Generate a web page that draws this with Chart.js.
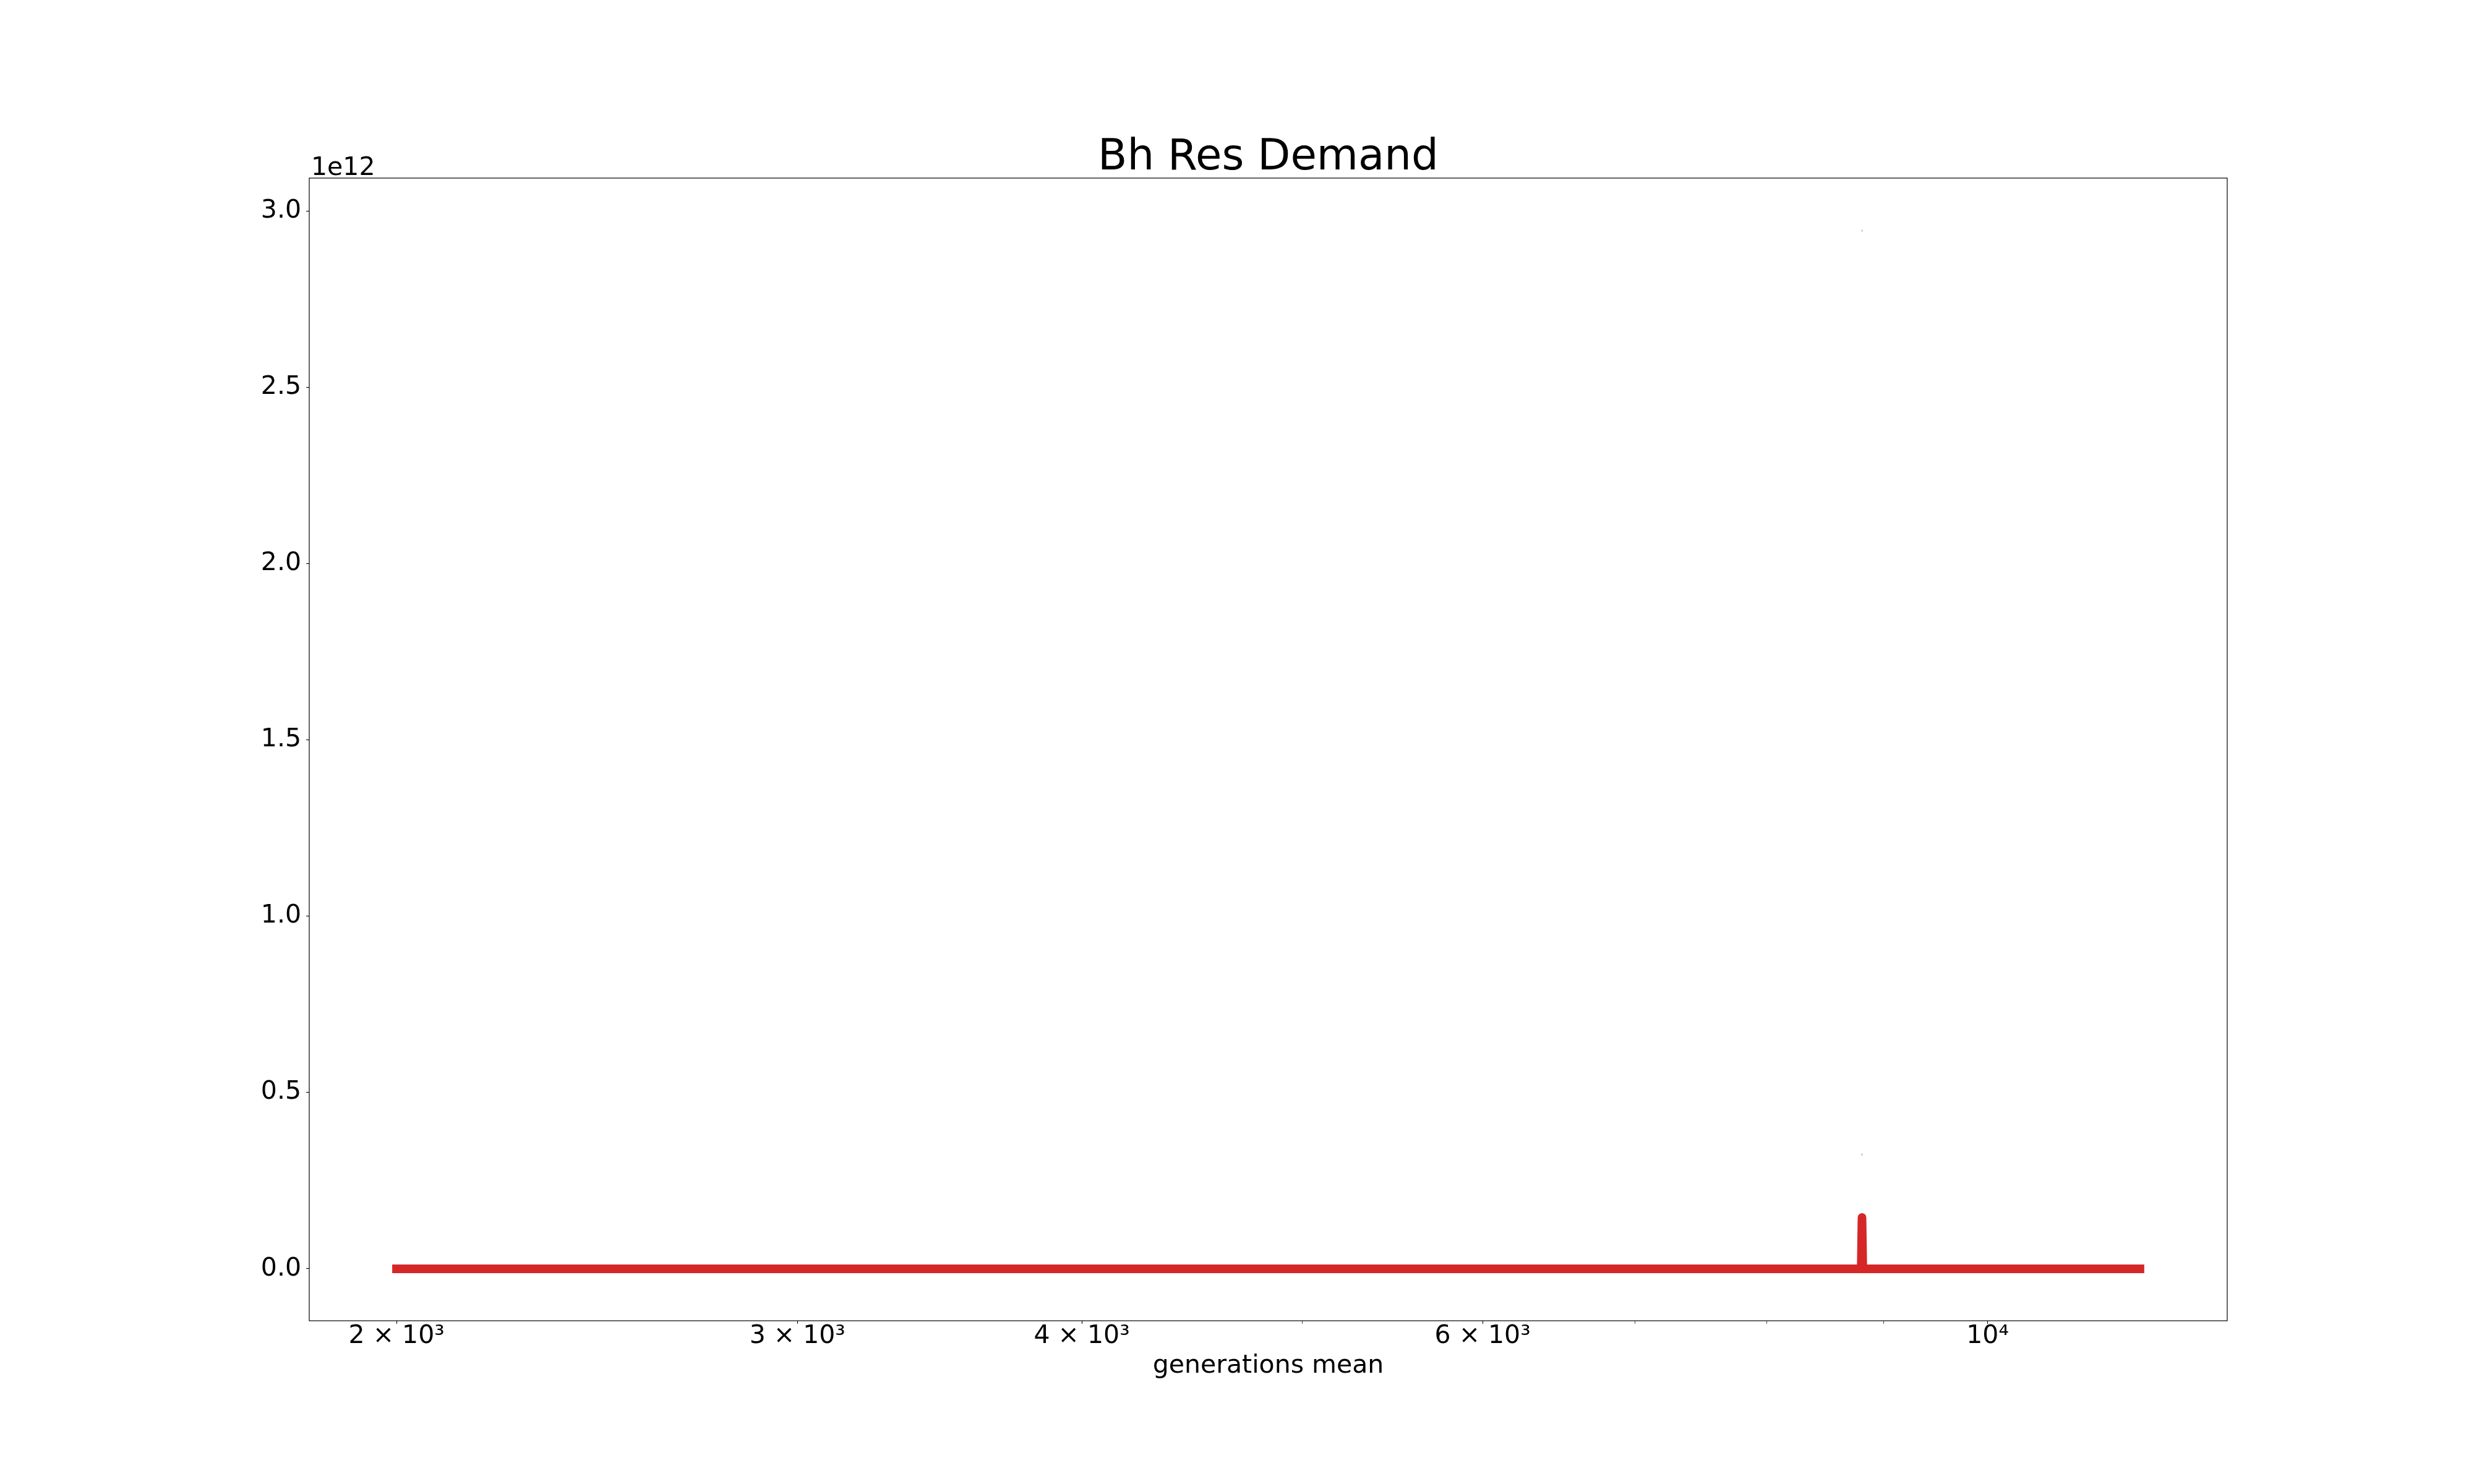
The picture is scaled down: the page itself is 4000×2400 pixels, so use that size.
<!DOCTYPE html>
<html>
<head>
<meta charset="utf-8">
<script src="https://cdn.jsdelivr.net/npm/chart.js@4/dist/chart.umd.min.js"></script>
<style>
  body { margin: 0; background: #ffffff; }
  #wrap { width: 4000px; height: 2400px; position: relative; }
</style>
</head>
<body>
<div id="wrap"><canvas id="demandChart"></canvas></div>
<script>
// generations mean (x) and the mean demand (y)
const generations = [2000, 2500, 3000, 3500, 4000, 5000, 6000, 7000, 8000, 8800, 8807, 8814, 9500, 10500, 11666];
const demand = [0, 0, 0, 0, 0, 0, 0, 0, 0, 0, 0.1454e12, 0, 0, 0, 0];

// faint spread points around the spike
const spreadX = [8807, 8807];
const spreadY = [2.944e12, 0.324e12];

// axis ticks
const xTickValues = [2000, 3000, 4000, 5000, 6000, 7000, 8000, 9000, 10000];
const xTickLabels = ["2 × 10³", "3 × 10³", "4 × 10³", "", "6 × 10³", "", "", "", "10⁴"];
const yTickValues = [0, 0.5e12, 1.0e12, 1.5e12, 2.0e12, 2.5e12, 3.0e12];

const FONT = "'DejaVu Sans', sans-serif";

// matplotlib style frame plus the offset text of the y axis
const framePlugin = {
  id: "frame",
  afterDraw(chart) {
    const { ctx, chartArea } = chart;
    ctx.save();
    ctx.strokeStyle = "#000000";
    ctx.lineWidth = 1.2;
    ctx.strokeRect(chartArea.left, chartArea.top, chartArea.right - chartArea.left, chartArea.bottom - chartArea.top);
    ctx.fillStyle = "#000000";
    ctx.font = "41px " + FONT;
    ctx.textAlign = "left";
    ctx.textBaseline = "alphabetic";
    ctx.fillText("1e12", chartArea.left + 3, chartArea.top - 5);
    ctx.restore();
  },
};

const ctx = document.getElementById("demandChart").getContext("2d");
const demandChart = new Chart(ctx, {
  type: "line",
  data: {
    datasets: [
      {
        label: "spread",
        data: spreadX.map((x, i) => ({ x: x, y: spreadY[i] })),
        showLine: false,
        pointRadius: 1.6,
        pointBorderWidth: 0,
        pointBackgroundColor: "rgba(31, 119, 180, 0.35)",
        order: 2,
      },
      {
        label: "Bh Res Demand",
        data: generations.map((x, i) => ({ x: x, y: demand[i] })),
        borderColor: "#d62728",
        borderWidth: 14,
        borderCapStyle: "square",
        borderJoinStyle: "round",
        pointRadius: 0,
        tension: 0,
        fill: false,
        order: 1,
      },
    ],
  },
  options: {
    responsive: true,
    maintainAspectRatio: false,
    devicePixelRatio: 1,
    animation: false,
    layout: { padding: { left: 0, right: 399, top: 0, bottom: 0 } },
    plugins: {
      legend: { display: false },
      tooltip: { enabled: false },
      title: {
        display: true,
        fullSize: false,
        text: "Bh Res Demand",
        color: "#000000",
        font: { family: FONT, size: 69, weight: "normal", lineHeight: 1.0 },
        padding: { top: 222, bottom: -3 },
      },
    },
    scales: {
      x: {
        type: "logarithmic",
        min: 1831,
        max: 12743,
        afterFit(scale) { scale.height = 264; },
        afterBuildTicks(scale) { scale.ticks = xTickValues.map((v) => ({ value: v })); },
        border: { display: false },
        grid: {
          drawOnChartArea: false,
          drawTicks: true,
          tickLength: 5,
          tickColor: "#000000",
          tickWidth: (c) => (xTickLabels[c.index] ? 1.1 : 0.7),
        },
        ticks: {
          autoSkip: false,
          maxRotation: 0,
          padding: 0,
          color: "#000000",
          font: { family: FONT, size: 41, lineHeight: 1.0 },
          callback: (value, index) => xTickLabels[index],
        },
        title: {
          display: true,
          text: "generations mean",
          color: "#000000",
          font: { family: FONT, size: 41, lineHeight: 1.2 },
          padding: { top: 0, bottom: 166 },
        },
      },
      y: {
        type: "linear",
        min: -0.1473e12,
        max: 3.093e12,
        afterFit(scale) { scale.width = 500; },
        afterBuildTicks(scale) { scale.ticks = yTickValues.map((v) => ({ value: v })); },
        border: { display: false },
        grid: {
          drawOnChartArea: false,
          drawTicks: true,
          tickLength: 5,
          tickColor: "#000000",
          tickWidth: 1.1,
        },
        ticks: {
          padding: 8,
          color: "#000000",
          font: { family: FONT, size: 41 },
          callback: (value) => (value / 1e12).toFixed(1),
        },
      },
    },
  },
  plugins: [framePlugin],
});
</script>
</body>
</html>
